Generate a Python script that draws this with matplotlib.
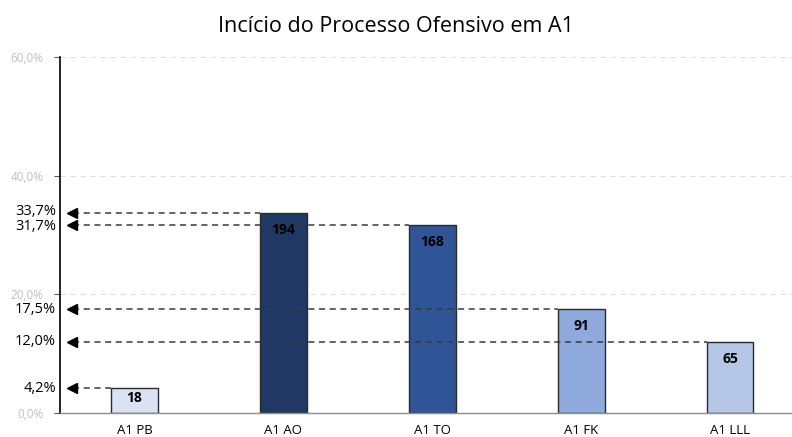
import numpy as np
import matplotlib.pyplot as plt

# ===========================
# Data
categories = ['A1 PB', 'A1 AO', 'A1 TO', 'A1 FK', 'A1 LLL']
percent = [4.2, 33.7, 31.7, 17.5, 12.0]
counts = [18, 194, 168, 91, 65]
grid_ticks = [0, 20, 40, 60]
grid_labels = ['0,0%', '20,0%', '40,0%', '60,0%']
bar_colors = ['#dae3f3', '#203864', '#2f5597', '#8faadc', '#b4c7e7']
title = 'Incício do Processo Ofensivo em A1'

plt.rcParams['font.family'] = ['Open Sans', 'DejaVu Sans']

# ===========================
# Figure
fig = plt.figure(figsize=(7.92, 4.37), dpi=100)
ax_h = (413 - 57) / 437
ax = fig.add_axes([60 / 792, 24 / 437, 1 - 60 / 792, ax_h])
x = np.arange(len(categories))
bw = 0.315
px = 1 / 149.0  # one pixel in x data units
ypx = 60 / 356.0  # one pixel in y data units

ax.set_xlim(-0.5, -0.5 + (792 - 59.5) * px)
ax.set_ylim(0, 60)

# grid
for g in grid_ticks[1:]:
    ax.axhline(g, color='#e0e0e0', lw=0.8, ls=(0, (5, 4)), zorder=0)

ax.bar(x, percent, width=bw, color=bar_colors, edgecolor='#2b2b2b', linewidth=1.0, zorder=2)

# value labels inside bars
for xi, p, c in zip(x, percent, counts):
    off = min(17, 0.38 * p / ypx)
    ax.annotate(str(c), (xi, p), xytext=(0, -off * 0.72), textcoords='offset points',
                ha='center', va='center', fontsize=10, fontweight='bold', color='black', zorder=5)

# dashed arrows from bar top to axis
tip = -0.5 + 8.5 * px
for xi, p in zip(x, percent):
    ax.plot([tip + 5 * px, xi - bw / 2], [p, p], color='#3a3a3a', lw=1.1,
            dashes=(4, 3), zorder=3)
    ax.plot(tip + 4 * px, p, marker='<', color='black', markersize=6.5, zorder=4)

# y axis: grey grid labels + black highlighted values
ax.set_yticks(grid_ticks)
ax.set_yticklabels(grid_labels, fontsize=8.5, color='#bfbfbf')
ax.tick_params(axis='y', length=4, color='#595959', pad=8)

# spread highlighted labels so they don't collide (min 15 px apart)
order = np.argsort(percent)
lab_y = {}
prev = None
for i in order:
    y = percent[i]
    if prev is not None and (y - prev) / ypx < 15:
        mid = (y + prev) / 2
        lab_y[last] = mid - 7.5 * ypx
        y = mid + 7.5 * ypx
    lab_y[i] = y
    prev, last = y, i
for i, p in enumerate(percent):
    ax.annotate(('%.1f%%' % p).replace('.', ','), (0, lab_y[i]), xycoords=('axes fraction', 'data'),
                xytext=(-3, 0), textcoords='offset points', ha='right', va='center',
                fontsize=10.5, color='black')

ax.set_xticks(x)
ax.set_xticklabels(categories, fontsize=9.5)
ax.tick_params(axis='x', length=0, pad=8)

ax.spines['top'].set_visible(False)
ax.spines['right'].set_visible(False)
ax.spines['left'].set_color('black')
ax.spines['left'].set_linewidth(1.2)
ax.spines['bottom'].set_color('#8c8c8c')
ax.spines['bottom'].set_linewidth(1.0)

fig.text(0.5, 1 - 26 / 437, title, ha='center', va='center', fontsize=15.5)

fig.savefig('out.png', dpi=100)
